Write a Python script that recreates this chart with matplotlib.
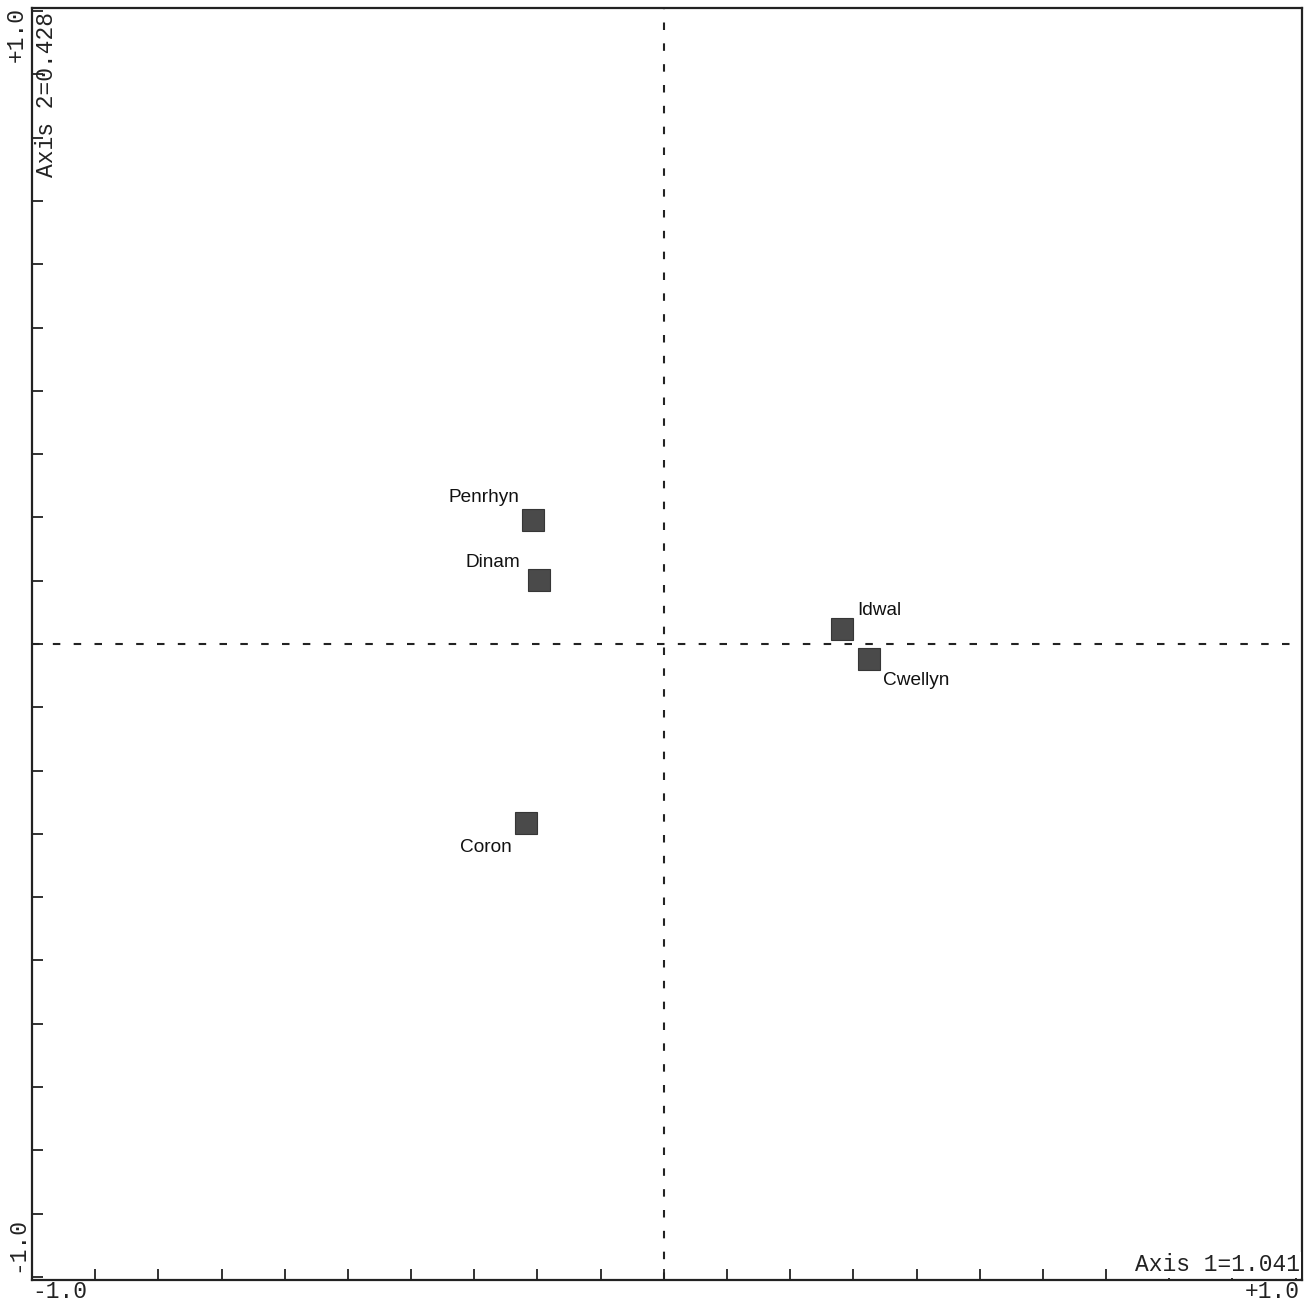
import matplotlib
matplotlib.use("Agg")
import matplotlib.pyplot as plt
import numpy as np

# Data
sites = ["Penrhyn", "Dinam", "Idwal", "Cwellyn", "Coron"]
axis1 = [-0.207, -0.198, 0.282, 0.325, -0.218]
axis2 = [0.196, 0.101, 0.024, -0.024, -0.283]
label_offsets = [(-14, 18), (-18, 13), (15, 14), (14, -26), (-14, -29)]
label_ha = ["right", "right", "left", "left", "right"]
tick_values = np.round(np.arange(-1.0, 1.0001, 0.1), 2)
axis1_title = "Axis 1=1.041"
axis2_title = "Axis 2=0.428"

W, H = 1305, 1303
fig = plt.figure(figsize=(W / 100, H / 100), dpi=100)
L, R, T, B = 32, 1302, 8, 1280
ax = fig.add_axes([L / W, (H - B) / H, (R - L) / W, (B - T) / H])
ax.set_xlim(-1.0, 1.01)
ax.set_ylim(-1.005, 1.005)

for s in ax.spines.values():
    s.set_linewidth(1.6)
    s.set_color("#222222")

ax.set_xticks(tick_values)
ax.set_yticks(tick_values)
ax.tick_params(direction="in", length=8, width=1.3, color="#222222",
               labelbottom=False, labelleft=False)

# dashed zero lines
ax.axvline(0, color="#222222", lw=1.5, dashes=(3.6, 6.4), zorder=1)
ax.axhline(0, color="#222222", lw=1.5, dashes=(3.6, 6.4), zorder=1)

ax.plot(axis1, axis2, linestyle="none", marker="s", markersize=16.5,
        markerfacecolor="#4a4a4a", markeredgecolor="#363636",
        markeredgewidth=0.8, zorder=3)

for name, x, y, off, ha in zip(sites, axis1, axis2, label_offsets, label_ha):
    ax.annotate(name, (x, y), xytext=off, textcoords="offset pixels",
                ha=ha, va="baseline", fontsize=13.7,
                family="Liberation Sans", color="#111111", zorder=4)

mono = "Liberation Mono"
ax.text(0.9985, 0.003, axis1_title, transform=ax.transAxes, ha="right",
        va="bottom", fontsize=16.5, family=mono, color="#222222",
        bbox=dict(facecolor="white", edgecolor="none", pad=1), zorder=5)
ax.text(0.002, 0.997, axis2_title, transform=ax.transAxes, ha="left",
        va="top", rotation=90, fontsize=16.5, family=mono, color="#222222",
        zorder=5)

def ftext(px, py, s, **kw):
    fig.text(px / W, 1 - py / H, s, family=mono, fontsize=16.5,
             color="#222222", **kw)

ftext(60, 1291, "-1.0", ha="center", va="center")
ftext(1272, 1291, "+1.0", ha="center", va="center")
ftext(16, 34, "+1.0", ha="center", va="center", rotation=90)
ftext(17, 1245, "-1.0", ha="center", va="center", rotation=90)

fig.savefig("out.png", dpi=100, facecolor="white")
